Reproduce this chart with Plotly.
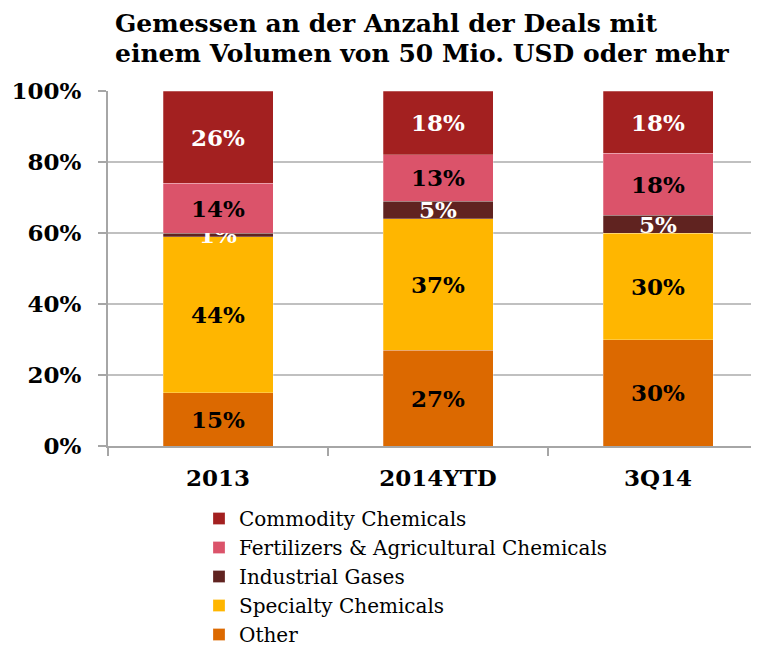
import plotly.graph_objects as go

categories = ["2013", "2014YTD", "3Q14"]
series_names = ["Other", "Specialty Chemicals", "Industrial Gases",
                "Fertilizers & Agricultural Chemicals", "Commodity Chemicals"]
other = [15, 27, 30]
specialty = [44, 37, 30]
industrial = [1, 5, 5]
fertilizers = [14, 13, 17.5]
commodity = [26, 18, 17.5]
labels_other = ["15%", "27%", "30%"]
labels_specialty = ["44%", "37%", "30%"]
labels_industrial = ["1%", "5%", "5%"]
labels_fertilizers = ["14%", "13%", "18%"]
labels_commodity = ["26%", "18%", "18%"]
y_ticks = [0, 20, 40, 60, 80, 100]
y_tick_labels = ["0%", "20%", "40%", "60%", "80%", "100%"]
title_lines = ["Gemessen an der Anzahl der Deals mit",
               "einem Volumen von 50 Mio. USD oder mehr"]

values = [other, specialty, industrial, fertilizers, commodity]
labels = [labels_other, labels_specialty, labels_industrial, labels_fertilizers, labels_commodity]
colors = ["#DC6900", "#FFB600", "#602320", "#DB536A", "#A32020"]
text_colors = ["black", "black", "white", "black", "white"]

SERIF = "DejaVu Serif"
OFF = 8  # page body margin
PLOT_H = 355
PLOT_W = 651

fig = go.Figure()
for name, vals, labs, col, tcol in zip(series_names, values, labels, colors, text_colors):
    fig.add_trace(go.Bar(
        x=categories, y=vals, name=name, text=labs,
        textposition="inside", insidetextanchor="middle",
        textfont=dict(family=SERIF, size=23, color=tcol, weight="bold"),
        marker=dict(color=col, line=dict(color="rgba(255,255,255,0.5)", width=0.5)),
        width=0.5, constraintext="none",
    ))

for line, cy in zip(title_lines, [23, 54]):
    fig.add_annotation(
        text=line, xref="paper", yref="paper",
        x=(113 - 108) / PLOT_W, xanchor="left", align="left",
        y=1 + (91 - cy) / PLOT_H, yanchor="middle",
        showarrow=False,
        font=dict(family=SERIF, size=25, color="black", weight="bold"),
    )

fig.update_layout(
    width=759 - OFF, height=646 - OFF,
    barmode="stack",
    paper_bgcolor="white", plot_bgcolor="white",
    margin=dict(l=108 - OFF, r=0, t=91 - OFF, b=646 - OFF - (91 - OFF) - PLOT_H, autoexpand=False),
    uniformtext=dict(minsize=23, mode="show"),
    xaxis=dict(
        range=[-0.5, -0.5 + PLOT_W / 220],
        showline=True, linecolor="#a6a6a6", linewidth=2,
        ticks="outside", tickson="boundaries", ticklen=8, tickcolor="#a6a6a6", tickwidth=2,
        tickfont=dict(family=SERIF, size=23, color="black", weight="bold"),
        ticklabelstandoff=10,
        showgrid=False, zeroline=False,
    ),
    yaxis=dict(
        range=[0, 100], tickvals=y_ticks, ticktext=y_tick_labels,
        showline=True, linecolor="#a6a6a6", linewidth=2,
        ticks="outside", ticklen=8, tickcolor="#a6a6a6", tickwidth=2,
        showgrid=True, gridcolor="#c0c0c0", gridwidth=1.5,
        tickfont=dict(family=SERIF, size=23, color="black", weight="bold"),
        ticklabelstandoff=12,
        zeroline=False,
    ),
    legend=dict(
        orientation="v", traceorder="reversed",
        x=(199 - 108) / PLOT_W, xanchor="left",
        y=-(499 - 446) / PLOT_H, yanchor="top",
        font=dict(family=SERIF, size=20, color="black"),
        tracegroupgap=0, bgcolor="rgba(0,0,0,0)",
    ),
    showlegend=True,
)

fig.write_html("out.html")
